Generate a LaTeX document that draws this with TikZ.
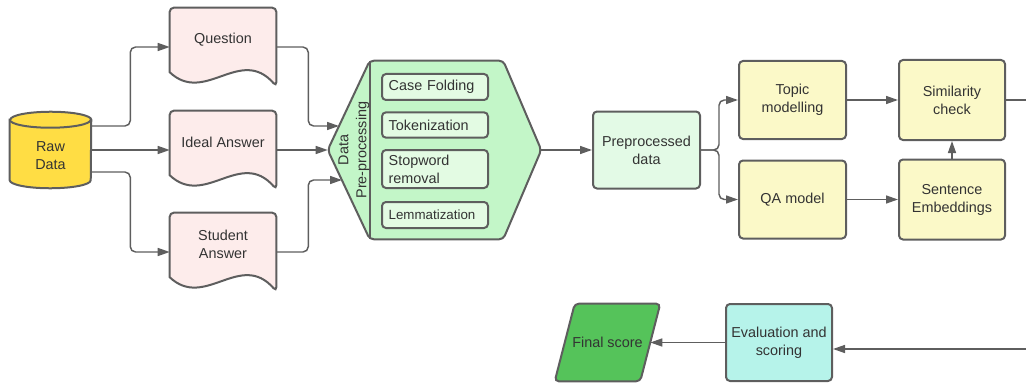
\documentclass[tikz,border=0pt]{standalone}
\usepackage{fontspec}
\setmainfont{Liberation Sans}
\usetikzlibrary{arrows.meta,calc,backgrounds}

\definecolor{edgegray}{HTML}{5E5E5E}
\definecolor{txtgray}{HTML}{333333}
\definecolor{rawyellow}{HTML}{FFDD44}
\definecolor{docpink}{HTML}{FDECEB}
\definecolor{hexgreen}{HTML}{C3F6C8}
\definecolor{stepgreen}{HTML}{E3FBE3}
\definecolor{ppgreen}{HTML}{E3FAE6}
\definecolor{modelyellow}{HTML}{FBF9C8}
\definecolor{evalcyan}{HTML}{B6F3EA}
\definecolor{scoregreen}{HTML}{55C35A}

% wavy-bottom document outline around an empty node
\newcommand{\docshape}[1]{%
  \filldraw[outline, fill=docpink] ([yshift=10.5pt]#1.south west) -- (#1.north west) -- (#1.north east) -- (#1.south east)
    [sharp corners] .. controls ($(#1.south east)+(-27pt,30.75pt)$) and ($(#1.south west)+(26.25pt,-14.25pt)$) .. cycle;}

\begin{document}
\begin{tikzpicture}[x=0.75pt, y=0.75pt,
    font=\fontsize{10.8}{13.5}\selectfont, text=txtgray,
    box/.style={rectangle, rounded corners=3pt, draw=edgegray, line width=1.5pt, align=center, minimum width=80.25pt, minimum height=58.5pt},
    shapeonly/.style={rectangle, inner sep=0pt, align=center, minimum width=79.5pt, minimum height=58.5pt},
    stepbox/.style={rectangle, rounded corners=3pt, draw=edgegray, line width=1.5pt, fill=stepgreen, align=left, text width=69.5pt, inner xsep=5pt, inner ysep=1pt},
    outline/.style={draw=edgegray, line width=1.5pt, rounded corners=3pt},
    flow/.style={draw=edgegray, line width=1.1pt, rounded corners=4pt, -{Triangle[length=9pt,width=6pt]}}]
    \useasboundingbox (0,0) rectangle (1026,383);

    \node [shapeonly, minimum width=60.75pt, minimum height=57pt] (raw) at (50.5,233) {};
    \node [align=center] (rawlbl) at (50.5,227) {Raw\\Data};

    \node [shapeonly] (question) at (223,336) {};
    \node (questionlbl) at (223,343) {Question};
    \node [shapeonly] (ideal) at (223,233) {};
    \node (ideallbl) at (223,241) {Ideal Answer};
    \node [shapeonly] (student) at (223,131) {};
    \node [align=center] (studentlbl) at (223,139) {Student\\Answer};

    \node [shapeonly, minimum width=99.75pt, minimum height=133.5pt] (prep) at (436.5,233) {};
    \node [rotate=90, align=center] (preplbl) at (354,233) {Data\\Pre-processing};
    \begin{scope}[every node/.style={stepbox}]
        \node [minimum height=19.5pt] (casefold) at (435,296) {Case Folding};
        \node [minimum height=19pt] (token) at (435,258) {Tokenization};
        \node [minimum height=28.5pt] (stopword) at (435,214) {Stopword\\removal};
        \node [minimum height=19.5pt, font=\fontsize{10}{12}\selectfont] (lemma) at (435,168) {Lemmatization};
    \end{scope}

    \node [box, fill=ppgreen, minimum height=57.75pt] (ppdata) at (646.5,233) {Preprocessed\\data};
    \begin{scope}[every node/.style={box, fill=modelyellow}]
        \node (topic) at (792.5,283) {Topic\\modelling};
        \node (qamodel) at (792.5,183.5) {QA model};
        \node [minimum width=79.5pt, minimum height=60pt] (simcheck) at (952,283) {Similarity\\check};
        \node [minimum width=79.5pt, minimum height=60pt] (sentemb) at (952,183.5) {Sentence\\Embeddings};
    \end{scope}
    \node [box, fill=evalcyan, minimum width=79.5pt, minimum height=57.75pt] (evalscore) at (779,40.5) {Evaluation and\\scoring};
    \node [shapeonly, minimum width=63.75pt, minimum height=57.75pt] (final) at (607.5,40.5) {Final score};

    \begin{pgfonlayer}{background}
        \filldraw [draw=edgegray, line width=1.5pt, fill=rawyellow] ([yshift=-6pt]raw.north west) -- ([yshift=6pt]raw.south west)
            arc[start angle=180, end angle=360, x radius=30.375pt, y radius=6pt] -- ([yshift=-6pt]raw.north east)
            arc[start angle=0, end angle=180, x radius=30.375pt, y radius=6pt] -- cycle;
        \draw [draw=edgegray, line width=1.5pt] ([yshift=-6pt]raw.north west) arc[start angle=180, end angle=360, x radius=30.375pt, y radius=6pt];
        \docshape{question}
        \docshape{ideal}
        \docshape{student}
        \filldraw [outline, fill=hexgreen] (prep.north west) -- (prep.north east) -- ($(prep.east)+(28.5pt,0)$)
            -- (prep.south east) -- (prep.south west) -- ($(prep.west)+(-31.5pt,0)$) -- cycle;
        \draw [outline] (prep.north west) -- (prep.south west);
        \filldraw [outline, fill=scoregreen] ([xshift=7.5pt]final.north west) -- ([xshift=7.5pt]final.north east)
            -- ([xshift=-7.5pt]final.south east) -- ([xshift=-7.5pt]final.south west) -- cycle;
    \end{pgfonlayer}

    \coordinate (prepin1) at (339,257);
    \coordinate (prepin2) at ($(prep.west)+(-31.5pt,0)$);
    \coordinate (prepin3) at (342,203);
    \coordinate (prepout) at ($(prep.east)+(28.5pt,0)$);
    \coordinate (simout) at (1026,283);
    \coordinate (scorein) at (1026,34);

    \begin{scope}[flow]
        \draw ([yshift=18pt]raw.east) -- ++(39,0) |- (question.west);
        \draw (raw.east) -- (ideal.west);
        \draw ([yshift=-16.5pt]raw.east) -- ++(39,0) |- (student.west);
        \draw (question.east) -- ++(32,0) |- (prepin1);
        \draw (ideal.east) -- (prepin2);
        \draw (student.east) -- ++(32,0) |- (prepin3);
        \draw (prepout) -- (ppdata.west);
        \draw (ppdata.east) -- ++(18,0) |- (topic.west);
        \draw (ppdata.east) -- ++(18,0) |- (qamodel.west);
        \draw (topic.east) -- (simcheck.west);
        \draw (qamodel.east) -- (sentemb.west);
        \draw (sentemb.north) -- (simcheck.south);
        \draw [-] (simcheck.east) -- (simout);
        \draw (scorein) -- (scorein -| evalscore.east);
        \draw (evalscore.west) -- (final.east);
    \end{scope}
\end{tikzpicture}
\end{document}
